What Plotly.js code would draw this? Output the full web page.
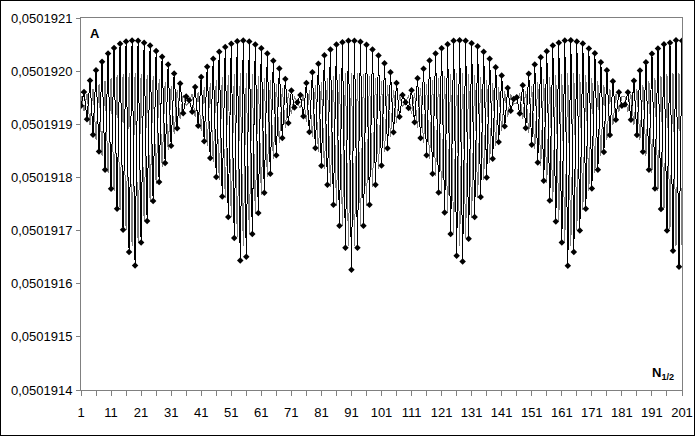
<!DOCTYPE html>
<html>
<head>
<meta charset="utf-8">
<script src="https://cdn.plot.ly/plotly-3.0.1.min.js"></script>
<style>
html,body{margin:0;padding:0;background:#fff;}
#wrap{position:relative;width:695px;height:436px;}
#chart{width:695px;height:436px;}
#frame{position:absolute;left:0;top:0;width:695px;height:436px;box-sizing:border-box;border:1px solid #000;pointer-events:none;}
</style>
</head>
<body>
<div id="wrap"><div id="chart"></div><div id="frame"></div></div>
<script>
// Category index N (1..201)
const N = Array.from({length: 201}, (_, i) => i + 1);

// Series A (black, with markers)
const seriesA = [
0.0501919351,0.0501919609,0.0501919097,0.0501919826,0.0501918805,0.0501920016,0.0501918490,0.0501920177,0.0501918145,0.0501920331,
0.0501917787,0.0501920435,0.0501917410,0.0501920516,0.0501917015,0.0501920557,0.0501916595,0.0501920576,0.0501916342,0.0501920570,
0.0501916775,0.0501920535,0.0501917179,0.0501920482,0.0501917556,0.0501920378,0.0501917914,0.0501920269,0.0501918272,0.0501920124,
0.0501918598,0.0501919954,0.0501918924,0.0501919766,0.0501919206,0.0501919521,0.0501919451,0.0501919238,0.0501919700,0.0501918974,
0.0501919892,0.0501918679,0.0501920082,0.0501918366,0.0501920231,0.0501918008,0.0501920363,0.0501917642,0.0501920454,0.0501917254,
0.0501920516,0.0501916858,0.0501920563,0.0501916436,0.0501920576,0.0501916506,0.0501920557,0.0501916934,0.0501920501,0.0501917329,
0.0501920431,0.0501917712,0.0501920331,0.0501918070,0.0501920194,0.0501918415,0.0501920048,0.0501918743,0.0501919854,0.0501919025,
0.0501919634,0.0501919314,0.0501919413,0.0501919553,0.0501919150,0.0501919779,0.0501918856,0.0501919979,0.0501918554,0.0501920139,
0.0501918221,0.0501920297,0.0501917863,0.0501920406,0.0501917486,0.0501920501,0.0501917090,0.0501920544,0.0501916676,0.0501920570,
0.0501916261,0.0501920570,0.0501916676,0.0501920552,0.0501917090,0.0501920495,0.0501917486,0.0501920406,0.0501917863,0.0501920293,
0.0501918226,0.0501920148,0.0501918547,0.0501919979,0.0501918848,0.0501919779,0.0501919144,0.0501919553,0.0501919413,0.0501919308,
0.0501919640,0.0501919037,0.0501919866,0.0501918743,0.0501920043,0.0501918415,0.0501920199,0.0501918070,0.0501920331,0.0501917718,
0.0501920431,0.0501917341,0.0501920506,0.0501916934,0.0501920570,0.0501916525,0.0501920582,0.0501916417,0.0501920570,0.0501916845,
0.0501920525,0.0501917254,0.0501920469,0.0501917631,0.0501920363,0.0501918000,0.0501920231,0.0501918353,0.0501920073,0.0501918667,
0.0501919917,0.0501918961,0.0501919685,0.0501919257,0.0501919478,0.0501919508,0.0501919201,0.0501919734,0.0501918931,0.0501919949,
0.0501918616,0.0501920124,0.0501918283,0.0501920261,0.0501917938,0.0501920374,0.0501917567,0.0501920482,0.0501917171,0.0501920533,
0.0501916775,0.0501920576,0.0501916336,0.0501920582,0.0501916595,0.0501920557,0.0501917002,0.0501920520,0.0501917410,0.0501920425,
0.0501917793,0.0501920337,0.0501918145,0.0501920167,0.0501918479,0.0501920016,0.0501918799,0.0501919809,0.0501919087,0.0501919602,
0.0501919351,0.0501919370,0.0501919602,0.0501919087,0.0501919817,0.0501918799,0.0501920011,0.0501918485,0.0501920167,0.0501918145,
0.0501920325,0.0501917793,0.0501920425,0.0501917405,0.0501920506,0.0501917002,0.0501920533,0.0501916619,0.0501920582,0.0501916318,
0.0501920570
];

// Series B (grey line, no markers)
const seriesB = [
0.0501919529,0.0501919243,0.0501919578,0.0501918992,0.0501919670,0.0501918713,0.0501919749,0.0501918410,0.0501919820,0.0501918086,
0.0501919878,0.0501917748,0.0501919919,0.0501917393,0.0501919947,0.0501917018,0.0501919960,0.0501916709,0.0501919963,0.0501916791,
0.0501919954,0.0501917176,0.0501919934,0.0501917536,0.0501919899,0.0501917873,0.0501919851,0.0501918203,0.0501919794,0.0501918517,
0.0501919723,0.0501918817,0.0501919642,0.0501919097,0.0501919545,0.0501919350,0.0501919420,0.0501919570,0.0501919135,0.0501919613,
0.0501918878,0.0501919699,0.0501918598,0.0501919776,0.0501918289,0.0501919839,0.0501917956,0.0501919889,0.0501917609,0.0501919923,
0.0501917249,0.0501919948,0.0501916872,0.0501919962,0.0501916710,0.0501919960,0.0501916940,0.0501919943,0.0501917319,0.0501919915,
0.0501917676,0.0501919877,0.0501918017,0.0501919824,0.0501918341,0.0501919760,0.0501918650,0.0501919683,0.0501918930,0.0501919590,
0.0501919193,0.0501919520,0.0501919400,0.0501919300,0.0501919555,0.0501919040,0.0501919651,0.0501918766,0.0501919732,0.0501918474,
0.0501919803,0.0501918156,0.0501919864,0.0501917818,0.0501919910,0.0501917462,0.0501919940,0.0501917089,0.0501919956,0.0501916709,
0.0501919962,0.0501916709,0.0501919958,0.0501917089,0.0501919941,0.0501917462,0.0501919908,0.0501917818,0.0501919863,0.0501918159,
0.0501919805,0.0501918473,0.0501919734,0.0501918759,0.0501919651,0.0501919033,0.0501919555,0.0501919330,0.0501919420,0.0501919540,
0.0501919196,0.0501919594,0.0501918936,0.0501919685,0.0501918650,0.0501919760,0.0501918341,0.0501919824,0.0501918020,0.0501919877,
0.0501917685,0.0501919916,0.0501917324,0.0501919947,0.0501916949,0.0501919964,0.0501916710,0.0501919964,0.0501916858,0.0501919952,
0.0501917243,0.0501919929,0.0501917605,0.0501919892,0.0501917948,0.0501919839,0.0501918280,0.0501919774,0.0501918586,0.0501919703,
0.0501918866,0.0501919616,0.0501919137,0.0501919560,0.0501919380,0.0501919400,0.0501919580,0.0501919098,0.0501919634,0.0501918829,
0.0501919722,0.0501918531,0.0501919792,0.0501918219,0.0501919848,0.0501917890,0.0501919898,0.0501917537,0.0501919934,0.0501917172,
0.0501919955,0.0501916789,0.0501919966,0.0501916706,0.0501919962,0.0501917012,0.0501919948,0.0501917387,0.0501919918,0.0501917751,
0.0501919877,0.0501918089,0.0501919819,0.0501918404,0.0501919747,0.0501918705,0.0501919666,0.0501918985,0.0501919573,0.0501919240,
0.0501919530,0.0501919530,0.0501919240,0.0501919575,0.0501918985,0.0501919667,0.0501918708,0.0501919745,0.0501918407,0.0501919816,
0.0501918089,0.0501919874,0.0501917748,0.0501919915,0.0501917385,0.0501919939,0.0501917023,0.0501919956,0.0501916709,0.0501919964,
0.0501916737
];

// Axis ticks
const xTickVals = [1,11,21,31,41,51,61,71,81,91,101,111,121,131,141,151,161,171,181,191,201];
const xTickLabels = ["1","11","21","31","41","51","61","71","81","91","101","111","121","131","141","151","161","171","181","191","201"];
const xMinorTicks = [6,16,26,36,46,56,66,76,86,96,106,116,126,136,146,156,166,176,186,196];
const yTickVals = [0.0501914,0.0501915,0.0501916,0.0501917,0.0501918,0.0501919,0.0501920,0.0501921];
const yTickLabels = ["0,0501914","0,0501915","0,0501916","0,0501917","0,0501918","0,0501919","0,0501920","0,0501921"];

const traces = [
  {x: N, y: seriesB, type: 'scatter', mode: 'lines', line: {color: '#808080', width: 1}, hoverinfo: 'skip'},
  {x: N, y: seriesA, type: 'scatter', mode: 'lines+markers', line: {color: '#000000', width: 1},
   marker: {symbol: 'diamond', size: 5, color: '#000000'}, hoverinfo: 'skip'}
];

const axisCommon = {showgrid: false, zeroline: false, showline: true, linecolor: '#808080', linewidth: 1, mirror: true,
  ticks: 'outside', tickcolor: '#808080', tickwidth: 1, tickfont: {family: 'Liberation Sans, Arial, sans-serif', size: 13, color: '#000'}};

const layout = {
  width: 695, height: 436,
  margin: {l: 81, r: 13, t: 18, b: 46, pad: 0},
  paper_bgcolor: '#ffffff', plot_bgcolor: '#ffffff',
  showlegend: false,
  separators: ', ',
  font: {family: 'Liberation Sans, Arial, sans-serif', size: 13, color: '#000'},
  xaxis: Object.assign({}, axisCommon, {
    range: [1, 201], tickmode: 'array', tickvals: xTickVals, ticktext: xTickLabels, ticklen: 5, ticklabelstandoff: 5,
    minor: {tickmode: 'array', tickvals: xMinorTicks, ticks: 'outside', ticklen: 5, tickcolor: '#808080', showgrid: false}
  }),
  yaxis: Object.assign({}, axisCommon, {
    range: [0.0501914, 0.0501921], tickmode: 'array', tickvals: yTickVals, ticktext: yTickLabels, ticklen: 4, ticklabelstandoff: 1
  }),
  annotations: [
    {xref: 'paper', yref: 'paper', x: 0.012, y: 0.957, xanchor: 'left', yanchor: 'middle', showarrow: false,
     text: '<b>A</b>', font: {size: 13, color: '#000'}},
    {xref: 'paper', yref: 'paper', x: 0.946, y: 0.045, xanchor: 'left', yanchor: 'middle', showarrow: false,
     text: '<b>N<sub>1/2</sub></b>', font: {size: 13, color: '#000'}}
  ]
};

Plotly.newPlot('chart', traces, layout, {staticPlot: true, displayModeBar: false}).then(function () {
  document.querySelectorAll('#chart .scatterlayer path.js-line').forEach(function (p) {
    p.style.shapeRendering = 'crispEdges';
  });
});
</script>
</body>
</html>
